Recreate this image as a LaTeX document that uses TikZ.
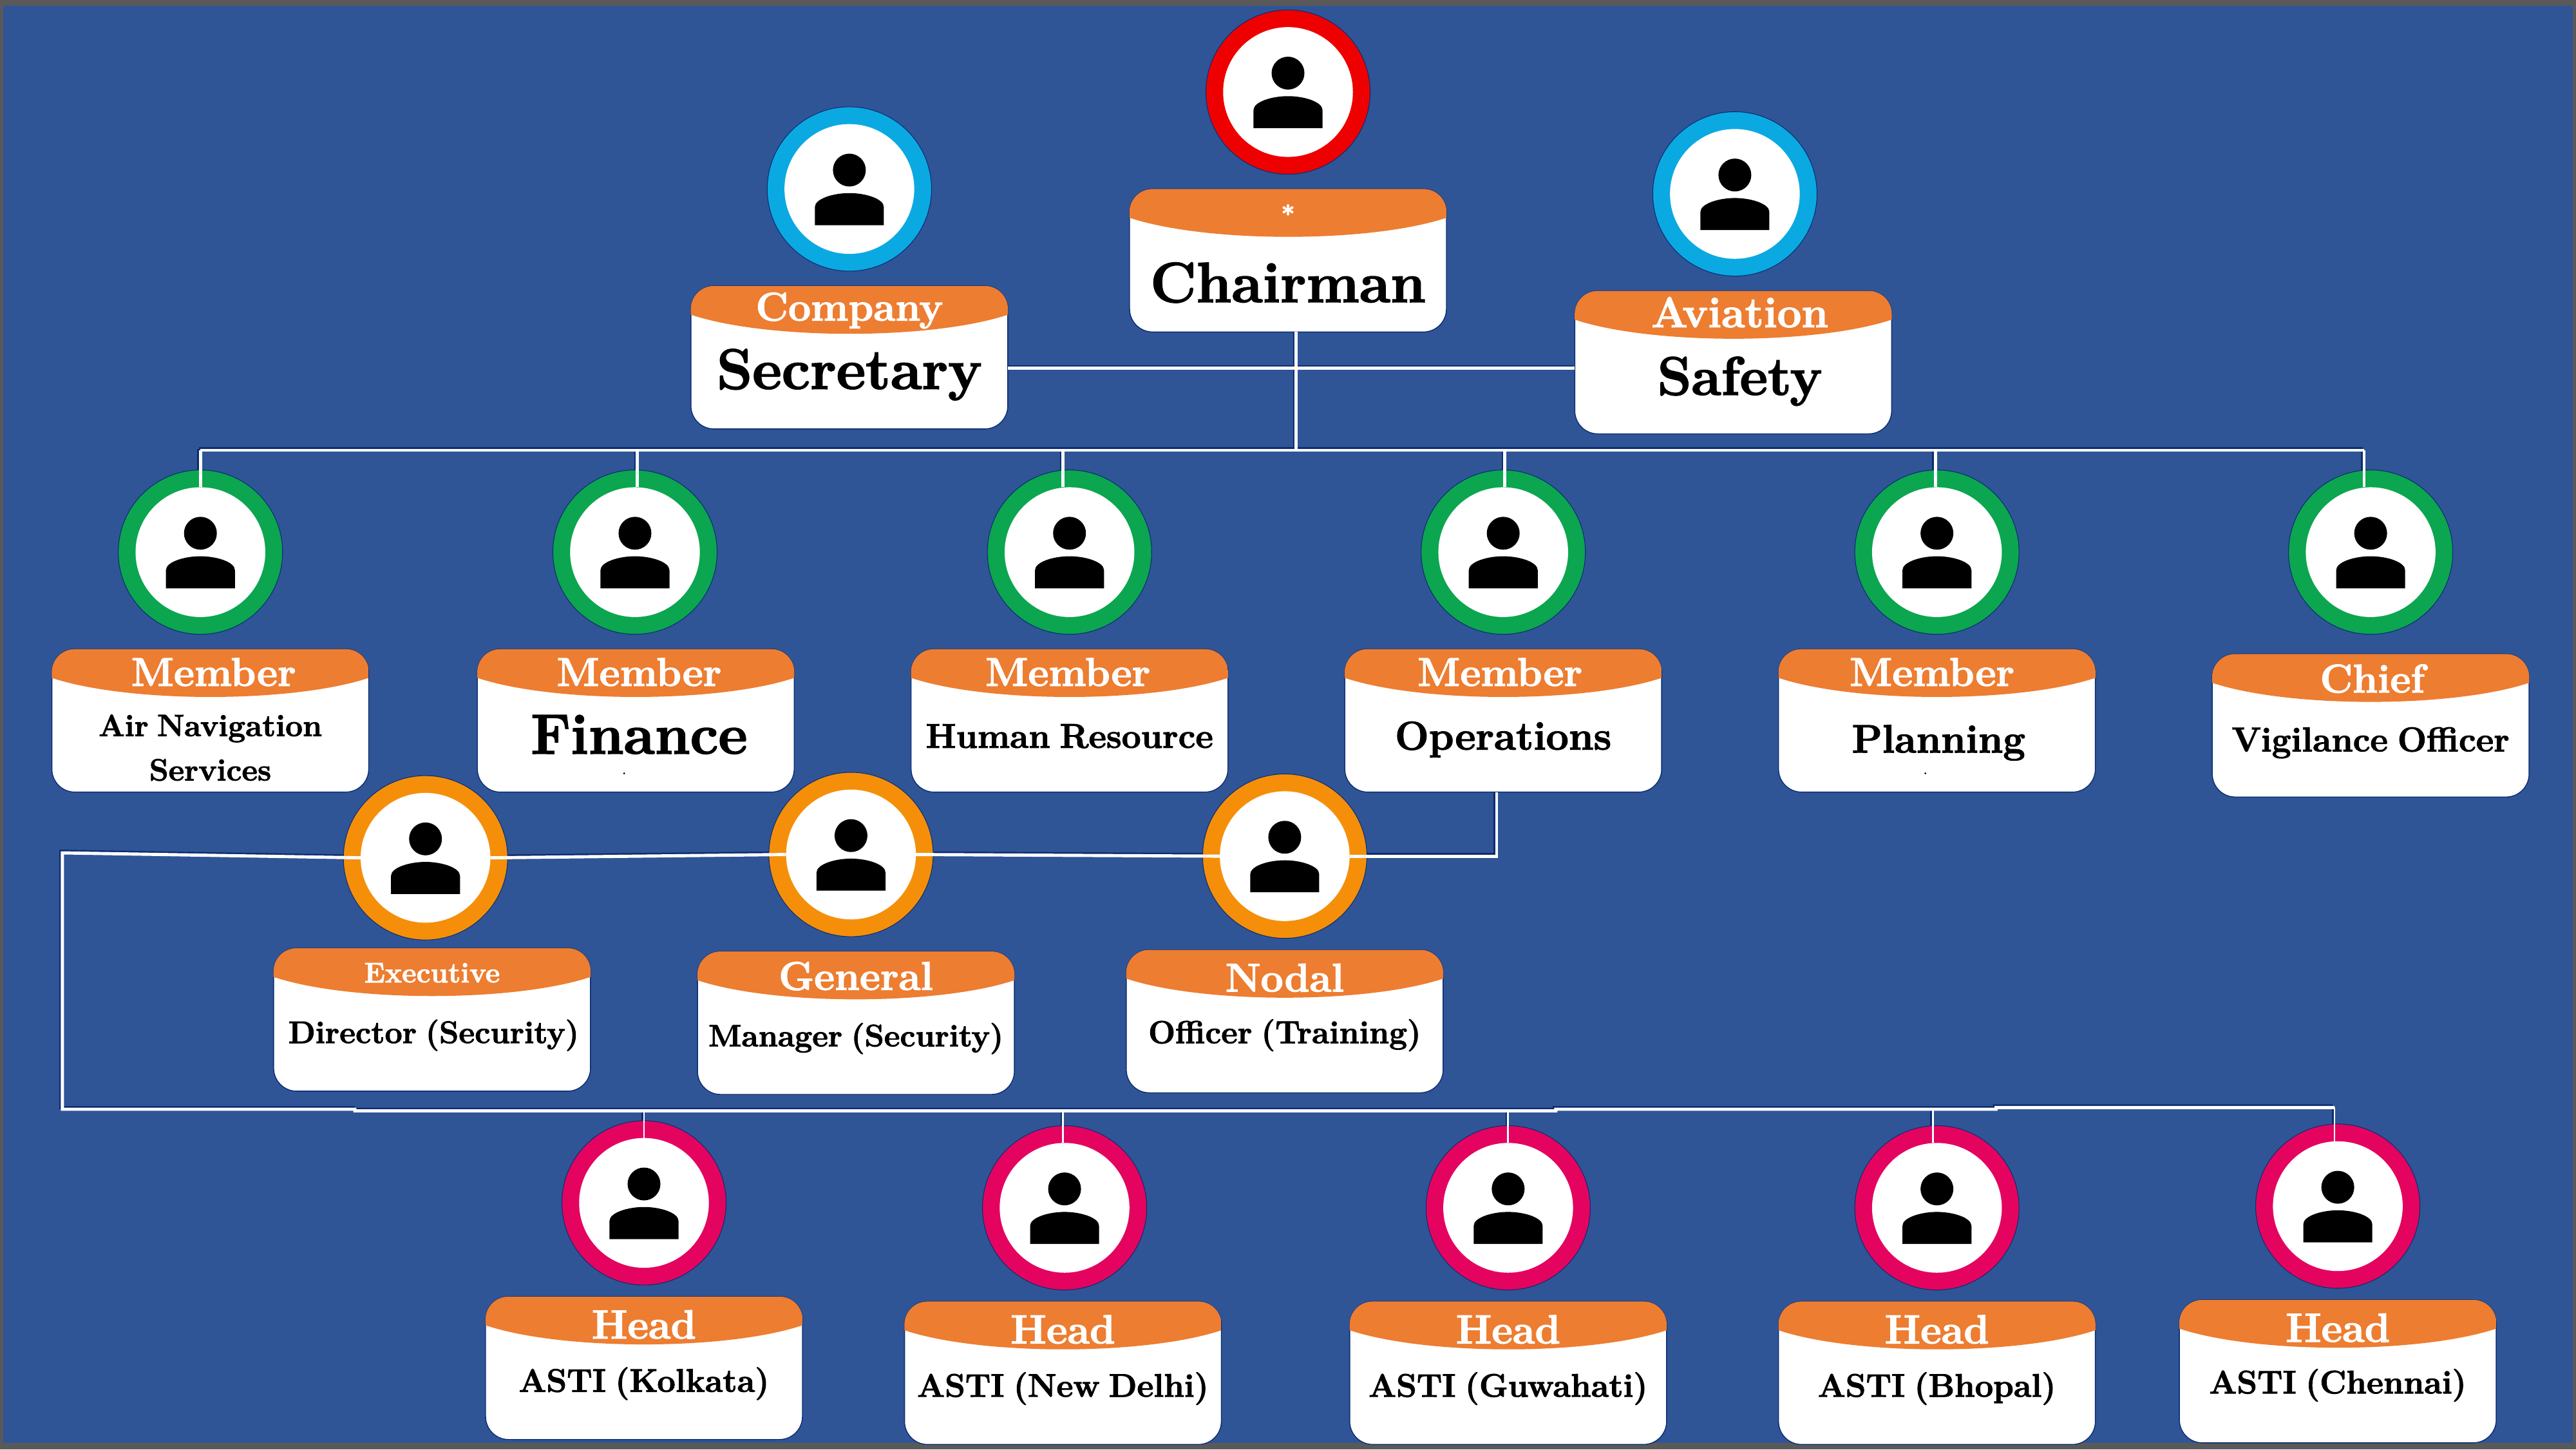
\documentclass[tikz,border=0pt]{standalone}
\usepackage{fontspec}
\setmainfont{Latin Modern Roman}[BoldFeatures={FakeBold=2,WordSpace=0.75}]
\usetikzlibrary{backgrounds}
\definecolor{slide}{HTML}{2F5597}
\definecolor{frameline}{HTML}{595959}
\definecolor{wireshade}{HTML}{0C2C70}
\definecolor{cardband}{HTML}{ED7D31}
\definecolor{ringred}{HTML}{EE0000}
\definecolor{ringblue}{HTML}{0BA9E2}
\definecolor{ringgreen}{HTML}{0BA64F}
\definecolor{ringorange}{HTML}{F58F0A}
\definecolor{ringpink}{HTML}{E4045F}
\tikzset{
	cardbox/.style={draw=wireshade,line width=.4pt,fill=white,rounded corners=.357cm,minimum width=4.92cm,minimum height=2.22cm,outer sep=0pt},
	headtext/.style={text=white,inner sep=0pt},
	bodytext/.style={text=black,inner sep=0pt,align=center},
	ringbox/.style={circle,draw=wireshade,line width=.3pt,fill=#1,minimum size=2.551cm,inner sep=0pt,outer sep=0pt},
	facebox/.style={circle,fill=white,minimum size=2.015cm,inner sep=0pt,outer sep=0pt},
	wire/.style={white,line width=1.4pt},
	wirebase/.style={wireshade,line width=1.4pt,transform canvas={xshift=-.7pt,yshift=.7pt}}
}
\newcommand\person[4]{
	\node[ringbox=#4] (#1r) at (#2,#3) {};
	\node[facebox] (#1) at (#2,#3) {};
	\begin{scope}[shift={(#2,#3)}]
		\fill[black] (0,-11.5) circle [radius=10];
		\fill[black] (-21,22)--(-21,11) .. controls (-21,6) and (-10,2.5) .. (0,2.5) .. controls (10,2.5) and (21,6) .. (21,11)--(21,22)--cycle;
	\end{scope}
}
\newcommand\card[8][0,53]{
	\node[cardbox] (#2) at (#3,#4+43.5) {};
	\begin{scope}[shift={(#3,#4)}]
		\begin{scope}
			\clip[rounded corners=.357cm] (-96.5,0) rectangle (96.5,87);
			\fill[cardband] (-96.5,0)--(96.5,0)--(96.5,17.5) .. controls (50,33) and (-50,33) .. (-96.5,17.5)--cycle;
		\end{scope}
		\node[headtext,font=\bfseries\fontsize{#6}{#6}\selectfont] (#2h) at (\headpos) {#5};
		\node[bodytext,font=\bfseries\fontsize{#8}{#8}\selectfont] (#2b) at (#1) {#7};
	\end{scope}
}
\newcommand\wire[2][]{
	\begin{scope}[on background layer]
		\draw[wirebase,#1] #2;
	\end{scope}
	\draw[wire,#1] #2;
}
\begin{document}
\begin{tikzpicture}[x=0.02551cm,y=-0.02551cm]
	\useasboundingbox (0,0) rectangle (1568,882);
	\begin{scope}[on background layer]
		\fill[frameline] (0,0) rectangle (1568,882);
		\fill[slide] (2,3.5) rectangle (1566,878);
	\end{scope}
	\def\headpos{0,15}
	\person{pchair}{784}{56}{ringred}
	\card[0,57]{cchair}{784}{115}{*}{11}{Chairman}{25}
	\def\headpos{0,15}
	\person{psec}{517}{115}{ringblue}
	\card[0,54]{csec}{517}{174}{Company}{17.7}{Secretary}{25.2}
	\def\headpos{4,13}
	\person{psafe}{1056}{118}{ringblue}
	\card[4,55]{csafe}{1055}{177}{Aviation}{19}{Safety}{24}
	\def\headpos{2,14}
	\person{pair}{122}{336}{ringgreen}
	\card[0,60]{cair}{128}{395}{Member}{17.7}{Air Navigation\\[6pt]Services}{13.6}
	\person{pfin}{386.5}{336}{ringgreen}
	\card[2,52]{cfin}{387}{395}{Member}{17.7}{Finance}{25}
	\def\headpos{-1,14}
	\person{phr}{651}{336}{ringgreen}
	\card{chr}{651}{395}{Member}{17.7}{Human Resource}{15.2}
	\def\headpos{-2,14}
	\person{pop}{915}{336}{ringgreen}
	\card[0,55]{cop}{915}{395}{Member}{17.7}{Operations}{17.7}
	\def\headpos{-3,14}
	\person{pplan}{1179}{336}{ringgreen}
	\card[1,57]{cplan}{1179}{395}{Member}{17.7}{Planning}{17.5}
	\def\headpos{1,15}
	\person{pvig}{1443}{336}{ringgreen}
	\card[0,54]{cvig}{1443}{398}{Chief}{17.7}{Vigilance Officer}{15.2}
	\def\headpos{0,15}
	\person{pexec}{259}{522}{ringorange}
	\card[1,53]{cexec}{263}{577}{Executive}{12.5}{Director (Security)}{13.8}
	\person{pgen}{518}{520}{ringorange}
	\card{cgen}{521}{579}{General}{17.7}{Manager (Security)}{13.7}
	\def\headpos{0,17}
	\person{pnodal}{782}{521}{ringorange}
	\card[0,52]{cnodal}{782}{578}{Nodal}{17.7}{Officer (Training)}{14.1}
	\person{pkol}{392}{732}{ringpink}
	\card{ckol}{392}{789}{Head}{18}{ASTI (Kolkata)}{14.4}
	\person{pdel}{648}{735}{ringpink}
	\card{cdel}{647}{792}{Head}{18}{ASTI (New Delhi)}{14.4}
	\person{pguw}{918}{735}{ringpink}
	\card{cguw}{918}{792}{Head}{18}{ASTI (Guwahati)}{14.4}
	\person{pbho}{1179}{735}{ringpink}
	\card{cbho}{1179}{792}{Head}{18}{ASTI (Bhopal)}{14.4}
	\person{pche}{1423}{734}{ringpink}
	\card[0,52]{cche}{1423}{791}{Head}{18}{ASTI (Chennai)}{14.4}
	\node[bodytext,font=\fontsize{7}{7}\selectfont] (dotfin) at (380,471) {.};
	\node[bodytext,font=\fontsize{7}{7}\selectfont] (dotplan) at (1172,471) {.};
	\coordinate (side) at (789,224);
	\coordinate (trunk) at (789,274);
	\coordinate (bl) at (122,274);
	\coordinate (bf) at (388,274);
	\coordinate (bh) at (647,274);
	\coordinate (bo) at (916,274);
	\coordinate (bp) at (1178,274);
	\coordinate (bv) at (1439,274);
	\wire{(cchair.south -| trunk) -- (trunk)}
	\wire{(csec.east |- side) -- (csafe.west |- side)}
	\wire{(bl) -- (bv)}
	\wire{(bl) -- (bl |- pair.north)}
	\wire{(bf) -- (bf |- pfin.north)}
	\wire{(bh) -- (bh |- phr.north)}
	\wire{(bo) -- (bo |- pop.north)}
	\wire{(bp) -- (bp |- pplan.north)}
	\wire{(bv) -- (bv |- pvig.north)}
	\coordinate (opdrop) at (911,521);
	\coordinate (lt) at (38,519);
	\coordinate (lb) at (38,675);
	\coordinate (s1) at (216,675);
	\coordinate (s1b) at (216,676);
	\coordinate (s2) at (947,676);
	\coordinate (s2b) at (947,675);
	\coordinate (s3) at (1215,675);
	\coordinate (s3b) at (1215,674);
	\coordinate (s4) at (1421,674);
	\wire{(cop.south -| opdrop) -- (opdrop) -- (pnodal.east)}
	\wire{(pnodal.west) -- (pgen.east)}
	\wire{(pgen.west) -- (pexec.east)}
	\wire{(pexec.west) -- (lt) -- (lb) -- (s1) -- (s1b) -- (s2) -- (s2b) -- (s3) -- (s3b) -- (s4)}
	\coordinate (hk) at (392,676);
	\coordinate (hd) at (647,676);
	\coordinate (hg) at (918,676);
	\coordinate (hb) at (1176.5,675);
	\wire[line width=.8pt]{(hk) -- (hk |- pkol.north)}
	\wire[line width=.8pt]{(hd) -- (hd |- pdel.north)}
	\wire[line width=.8pt]{(hg) -- (hg |- pguw.north)}
	\wire[line width=.8pt]{(hb) -- (hb |- pbho.north)}
	\wire[line width=.8pt]{(s4) -- (s4 |- pche.north)}
\end{tikzpicture}
\end{document}
